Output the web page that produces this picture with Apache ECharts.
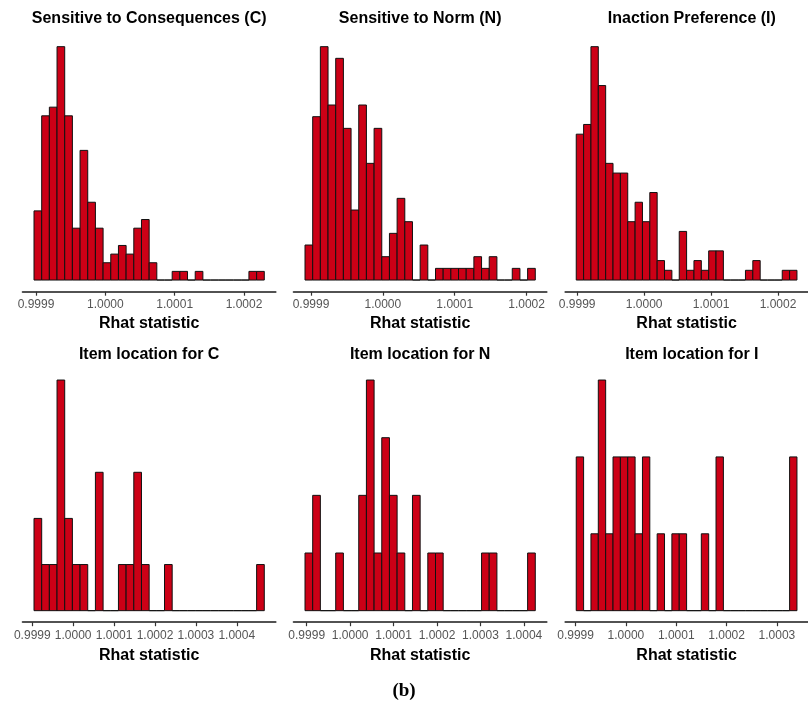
<!DOCTYPE html>
<html>
<head>
<meta charset="utf-8">
<script src="https://cdn.jsdelivr.net/npm/echarts@6/dist/echarts.min.js"></script>
<style>
  html, body { margin: 0; padding: 0; background: #fff; }
  #chart { width: 808px; height: 709px; }
</style>
</head>
<body>
<div id="chart"></div>
<script>
// ---- Data (histogram counts, 30 bins per panel) ----
const panelTitles = [
  'Sensitive to Consequences (C)', 'Sensitive to Norm (N)', 'Inaction Preference (I)',
  'Item location for C', 'Item location for N', 'Item location for I'
];
const countsConsequences = [8,19,20,27,19,6,15,9,6,2,3,4,3,6,7,2,0,0,1,1,0,1,0,0,0,0,0,0,1,1];
const countsNorm         = [3,14,20,15,19,13,6,15,10,13,2,4,7,5,0,3,0,1,1,1,1,1,2,1,2,0,0,1,0,1];
const countsInaction     = [15,16,24,20,12,11,11,6,8,6,9,2,1,0,5,1,2,1,3,3,0,0,0,1,2,0,0,0,1,1];
const countsLocC         = [2,1,1,5,2,1,1,0,3,0,0,1,1,3,1,0,0,1,0,0,0,0,0,0,0,0,0,0,0,1];
const countsLocN         = [1,2,0,0,1,0,0,2,4,1,3,2,1,0,2,0,1,1,0,0,0,0,0,1,1,0,0,0,0,1];
const countsLocI         = [2,0,1,3,1,2,2,2,1,2,0,1,0,1,1,0,0,1,0,2,0,0,0,0,0,0,0,0,0,2];
// first bin left edge (Rhat) and bin width per panel
const binStarts = [0.9998971, 0.9998917, 0.9998986, 0.9999042, 0.9998961, 0.9999013];
const binWidths = [0.00001107, 0.00001068, 0.00001099, 0.00001877, 0.00001767, 0.00001462];
// tick labels per panel
const ticksTop  = [0.9999, 1.0000, 1.0001, 1.0002];
const ticksC    = [0.9999, 1.0000, 1.0001, 1.0002, 1.0003, 1.0004];
const ticksN    = [0.9999, 1.0000, 1.0001, 1.0002, 1.0003, 1.0004];
const ticksI    = [0.9999, 1.0000, 1.0001, 1.0002, 1.0003];
const xLabel = 'Rhat statistic';
const caption = '(b)';

const allCounts = [countsConsequences, countsNorm, countsInaction, countsLocC, countsLocN, countsLocI];
const allTicks = [ticksTop, ticksTop, ticksTop, ticksC, ticksN, ticksI];

// ---- Layout ----
const gridLefts = [22.5, 293.5, 565.2];
const gridWidth = 253.3;
const rowTops = [35, 368.5];
const rowHeights = [256.7, 253.7];
const titleTops = [11, 347];

const FILL = '#CC0016';
const chart = echarts.init(document.getElementById('chart'));

const grids = [], xAxes = [], yAxes = [], series = [], titles = [];
for (let i = 0; i < 6; i++) {
  const row = Math.floor(i / 3), col = i % 3;
  const counts = allCounts[i];
  const n = counts.length;
  const bs = binStarts[i], bw = binWidths[i];
  const span = n * bw;
  const maxC = Math.max(...counts);
  grids.push({ left: gridLefts[col], top: rowTops[row], width: gridWidth, height: rowHeights[row], containLabel: false });
  xAxes.push({
    type: 'value', gridIndex: i,
    min: bs - 0.05 * span, max: bs + 1.05 * span,
    splitLine: { show: false },
    axisLine: { show: true, onZero: false, lineStyle: { color: '#1a1a1a', width: 1.6 } },
    axisTick: { show: true, length: 4, customValues: allTicks[i], lineStyle: { color: '#333', width: 1.2 } },
    axisLabel: {
      customValues: allTicks[i], margin: 7, fontSize: 12, color: '#555',
      fontFamily: 'Liberation Sans, Arial, sans-serif',
      formatter: v => Number(v).toFixed(4)
    },
    name: xLabel, nameLocation: 'middle', nameGap: row === 0 ? 24 : 25,
    nameTextStyle: { fontSize: 16, fontWeight: 'bold', color: '#000', fontFamily: 'Liberation Sans, Arial, sans-serif', verticalAlign: 'top' }
  });
  yAxes.push({
    type: 'value', gridIndex: i, min: -0.05 * maxC, max: 1.05 * maxC, show: false,
    splitLine: { show: false }
  });
  const data = counts.map((c, k) => [bs + k * bw, bs + (k + 1) * bw, c]);
  series.push({
    type: 'custom', xAxisIndex: i, yAxisIndex: i, data: data, clip: false,
    renderItem: function (params, api) {
      const p0 = api.coord([api.value(0), api.value(2)]);
      const p1 = api.coord([api.value(1), 0]);
      return {
        type: 'rect',
        shape: { x: p0[0], y: p0[1], width: p1[0] - p0[0], height: p1[1] - p0[1] },
        style: { fill: FILL, stroke: '#111', lineWidth: 1 }
      };
    }
  });
  titles.push({
    text: panelTitles[i], left: gridLefts[col] + gridWidth / 2, top: titleTops[row],
    textAlign: 'center', padding: 0,
    textStyle: { fontSize: 16, fontWeight: 'bold', color: '#000', fontFamily: 'Liberation Sans, Arial, sans-serif' }
  });
}
titles.push({
  text: caption, left: 404, top: 682, textAlign: 'center', padding: 0,
  textStyle: { fontSize: 19, fontWeight: 'bold', color: '#000', fontFamily: 'Liberation Serif, Times New Roman, serif' }
});

chart.setOption({
  animation: false,
  backgroundColor: '#fff',
  title: titles,
  grid: grids,
  xAxis: xAxes,
  yAxis: yAxes,
  series: series
});
</script>
</body>
</html>
